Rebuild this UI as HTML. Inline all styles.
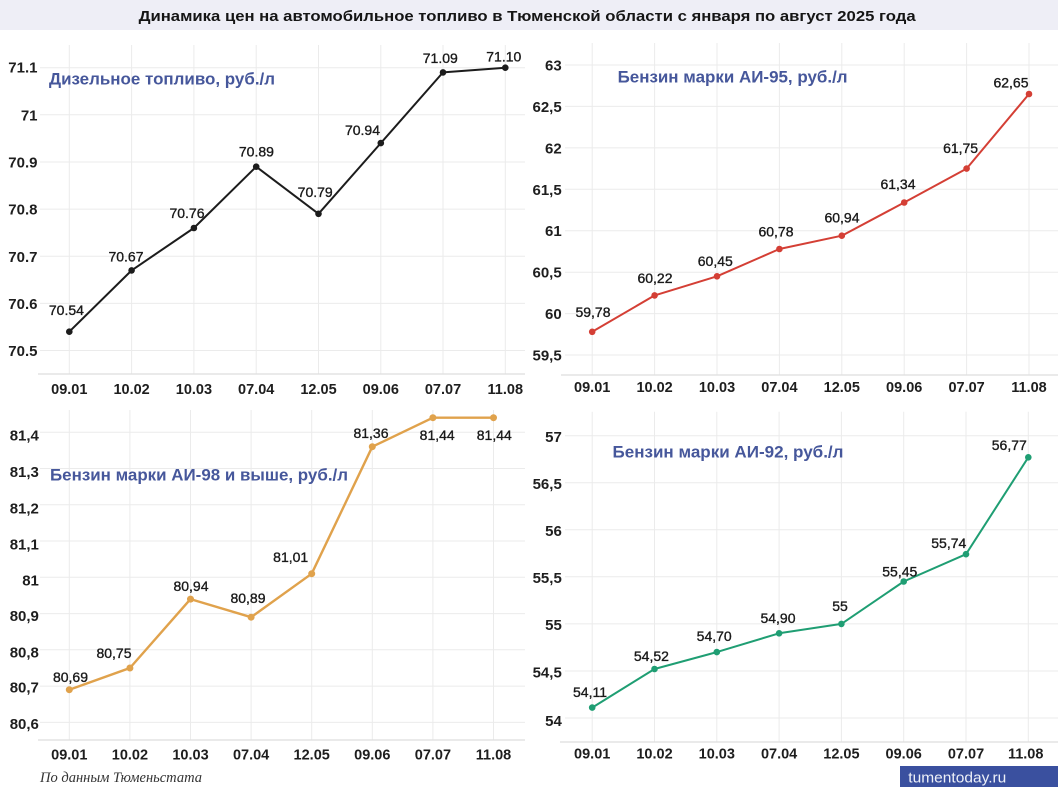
<!DOCTYPE html>
<html><head><meta charset="utf-8"><style>
html,body{margin:0;padding:0;background:#fff;}
svg{display:block;}
.t{font-family:"Liberation Sans",Arial,sans-serif;}
.yl{font-family:"Liberation Sans",Arial,sans-serif;font-weight:bold;font-size:15px;fill:#1e1e1e;text-anchor:end;}
.xl{font-family:"Liberation Sans",Arial,sans-serif;font-weight:bold;font-size:14.5px;fill:#1e1e1e;text-anchor:middle;}
.dl{font-family:"Liberation Sans",Arial,sans-serif;font-size:14px;fill:#1a1a1a;stroke:#1a1a1a;stroke-width:0.35;text-anchor:middle;}
.ti{font-family:"Liberation Sans",Arial,sans-serif;font-weight:bold;font-size:17px;fill:#46579b;}
.g{stroke:#ebebeb;stroke-width:1;}
.ax{stroke:#dedede;stroke-width:1.2;}
</style></head><body>
<svg width="1058" height="787" viewBox="0 0 1058 787" xmlns="http://www.w3.org/2000/svg">
<rect x="0" y="0" width="1058" height="787" fill="#fff"/>
<rect x="0" y="0" width="1058" height="30" fill="#eeeef6"/>
<text class="t" x="138.6" y="21" font-size="15" font-weight="bold" fill="#151515" textLength="777" lengthAdjust="spacingAndGlyphs">Динамика цен на автомобильное топливо в Тюменской области с января по август 2025 года</text>

<!-- TL: Diesel -->
<g>
<g class="g">
<line x1="69.3" y1="45" x2="69.3" y2="374"/><line x1="131.6" y1="45" x2="131.6" y2="374"/><line x1="193.9" y1="45" x2="193.9" y2="374"/><line x1="256.2" y1="45" x2="256.2" y2="374"/><line x1="318.5" y1="45" x2="318.5" y2="374"/><line x1="380.8" y1="45" x2="380.8" y2="374"/><line x1="443" y1="45" x2="443" y2="374"/><line x1="505.3" y1="45" x2="505.3" y2="374"/>
<line x1="40" y1="67.7" x2="525" y2="67.7"/><line x1="40" y1="114.8" x2="525" y2="114.8"/><line x1="40" y1="162" x2="525" y2="162"/><line x1="40" y1="209.1" x2="525" y2="209.1"/><line x1="40" y1="256.3" x2="525" y2="256.3"/><line x1="40" y1="303.4" x2="525" y2="303.4"/><line x1="40" y1="350.5" x2="525" y2="350.5"/>
</g>
<line class="ax" x1="38" y1="374" x2="525" y2="374"/>
<text class="yl" x="37.5" y="72.5">71.1</text><text class="yl" x="37.5" y="120.3">71</text><text class="yl" x="37.5" y="167.5">70.9</text><text class="yl" x="37.5" y="214.6">70.8</text><text class="yl" x="37.5" y="261.8">70.7</text><text class="yl" x="37.5" y="308.9">70.6</text><text class="yl" x="37.5" y="356">70.5</text>
<text class="xl" x="69.3" y="394">09.01</text><text class="xl" x="131.6" y="394">10.02</text><text class="xl" x="193.9" y="394">10.03</text><text class="xl" x="256.2" y="394">07.04</text><text class="xl" x="318.5" y="394">12.05</text><text class="xl" x="380.8" y="394">09.06</text><text class="xl" x="443" y="394">07.07</text><text class="xl" x="505.3" y="394">11.08</text>
<polyline fill="none" stroke="#1c1c1c" stroke-width="2" stroke-linejoin="round" points="69.3,331.7 131.6,270.4 193.9,228 256.2,166.7 318.5,213.8 380.8,143.1 443,72.4 505.3,67.7"/>
<g fill="#1c1c1c"><circle cx="69.3" cy="331.7" r="3.3"/><circle cx="131.6" cy="270.4" r="3.3"/><circle cx="193.9" cy="228" r="3.3"/><circle cx="256.2" cy="166.7" r="3.3"/><circle cx="318.5" cy="213.8" r="3.3"/><circle cx="380.8" cy="143.1" r="3.3"/><circle cx="443" cy="72.4" r="3.3"/><circle cx="505.3" cy="67.7" r="3.3"/></g>
<text class="dl" x="66.4" y="315">70.54</text><text class="dl" x="126" y="261.5">70.67</text><text class="dl" x="187" y="218">70.76</text><text class="dl" x="256.4" y="156.5">70.89</text><text class="dl" x="315.2" y="197">70.79</text><text class="dl" x="362.5" y="135">70.94</text><text class="dl" x="440.3" y="63">71.09</text><text class="dl" x="503.8" y="61.7">71.10</text>
<text class="ti" x="49" y="84.5" textLength="226" lengthAdjust="spacingAndGlyphs">Дизельное топливо, руб./л</text>
</g>

<!-- TR: AI-95 -->
<g>
<g class="g">
<line x1="592.2" y1="43" x2="592.2" y2="375"/><line x1="654.6" y1="43" x2="654.6" y2="375"/><line x1="717" y1="43" x2="717" y2="375"/><line x1="779.4" y1="43" x2="779.4" y2="375"/><line x1="841.8" y1="43" x2="841.8" y2="375"/><line x1="904.2" y1="43" x2="904.2" y2="375"/><line x1="966.6" y1="43" x2="966.6" y2="375"/><line x1="1029" y1="43" x2="1029" y2="375"/>
<line x1="565" y1="65" x2="1058" y2="65"/><line x1="565" y1="106.4" x2="1058" y2="106.4"/><line x1="565" y1="147.9" x2="1058" y2="147.9"/><line x1="565" y1="189.3" x2="1058" y2="189.3"/><line x1="565" y1="230.7" x2="1058" y2="230.7"/><line x1="565" y1="272.2" x2="1058" y2="272.2"/><line x1="565" y1="313.6" x2="1058" y2="313.6"/><line x1="565" y1="355" x2="1058" y2="355"/>
</g>
<line class="ax" x1="561" y1="375" x2="1058" y2="375"/>
<text class="yl" x="561.7" y="70.5">63</text><text class="yl" x="561.7" y="112">62,5</text><text class="yl" x="561.7" y="153.5">62</text><text class="yl" x="561.7" y="194.8">61,5</text><text class="yl" x="561.7" y="236.2">61</text><text class="yl" x="561.7" y="277.4">60,5</text><text class="yl" x="561.7" y="319">60</text><text class="yl" x="561.7" y="360.5">59,5</text>
<text class="xl" x="592.2" y="392">09.01</text><text class="xl" x="654.6" y="392">10.02</text><text class="xl" x="717" y="392">10.03</text><text class="xl" x="779.4" y="392">07.04</text><text class="xl" x="841.8" y="392">12.05</text><text class="xl" x="904.2" y="392">09.06</text><text class="xl" x="966.6" y="392">07.07</text><text class="xl" x="1029" y="392">11.08</text>
<polyline fill="none" stroke="#d43f35" stroke-width="2" stroke-linejoin="round" points="592.2,331.8 654.6,295.4 717,276.3 779.4,249 841.8,235.7 904.2,202.5 966.6,168.6 1029,94"/>
<g fill="#d43f35"><circle cx="592.2" cy="331.8" r="3.3"/><circle cx="654.6" cy="295.4" r="3.3"/><circle cx="717" cy="276.3" r="3.3"/><circle cx="779.4" cy="249" r="3.3"/><circle cx="841.8" cy="235.7" r="3.3"/><circle cx="904.2" cy="202.5" r="3.3"/><circle cx="966.6" cy="168.6" r="3.3"/><circle cx="1029" cy="94" r="3.3"/></g>
<text class="dl" x="593" y="317">59,78</text><text class="dl" x="655" y="283">60,22</text><text class="dl" x="715.3" y="266">60,45</text><text class="dl" x="776" y="236.7">60,78</text><text class="dl" x="842" y="222.7">60,94</text><text class="dl" x="898" y="189">61,34</text><text class="dl" x="960.6" y="153">61,75</text><text class="dl" x="1011" y="87.5">62,65</text>
<text class="ti" x="617.6" y="82.3" textLength="230" lengthAdjust="spacingAndGlyphs">Бензин марки АИ-95, руб./л</text>
</g>

<!-- BL: AI-98 -->
<g>
<g class="g">
<line x1="69.3" y1="410" x2="69.3" y2="740"/><line x1="129.9" y1="410" x2="129.9" y2="740"/><line x1="190.5" y1="410" x2="190.5" y2="740"/><line x1="251.1" y1="410" x2="251.1" y2="740"/><line x1="311.7" y1="410" x2="311.7" y2="740"/><line x1="372.3" y1="410" x2="372.3" y2="740"/><line x1="432.9" y1="410" x2="432.9" y2="740"/><line x1="493.5" y1="410" x2="493.5" y2="740"/>
<line x1="40" y1="432.2" x2="525" y2="432.2"/><line x1="40" y1="468.5" x2="525" y2="468.5"/><line x1="40" y1="504.7" x2="525" y2="504.7"/><line x1="40" y1="541" x2="525" y2="541"/><line x1="40" y1="577.3" x2="525" y2="577.3"/><line x1="40" y1="613.6" x2="525" y2="613.6"/><line x1="40" y1="649.8" x2="525" y2="649.8"/><line x1="40" y1="686.1" x2="525" y2="686.1"/><line x1="40" y1="722.4" x2="525" y2="722.4"/>
</g>
<line class="ax" x1="38" y1="740" x2="525" y2="740"/>
<text class="yl" x="38.9" y="440.5">81,4</text><text class="yl" x="38.9" y="477">81,3</text><text class="yl" x="38.9" y="513.5">81,2</text><text class="yl" x="38.9" y="549.5">81,1</text><text class="yl" x="38.9" y="585.5">81</text><text class="yl" x="38.9" y="621">80,9</text><text class="yl" x="38.9" y="657.5">80,8</text><text class="yl" x="38.9" y="692.5">80,7</text><text class="yl" x="38.9" y="729">80,6</text>
<text class="xl" x="69.3" y="759.5">09.01</text><text class="xl" x="129.9" y="759.5">10.02</text><text class="xl" x="190.5" y="759.5">10.03</text><text class="xl" x="251.1" y="759.5">07.04</text><text class="xl" x="311.7" y="759.5">12.05</text><text class="xl" x="372.3" y="759.5">09.06</text><text class="xl" x="432.9" y="759.5">07.07</text><text class="xl" x="493.5" y="759.5">11.08</text>
<polyline fill="none" stroke="#e0a24c" stroke-width="2.4" stroke-linejoin="round" points="69.3,689.7 129.9,668 190.5,599.1 251.1,617.2 311.7,573.7 372.3,446.7 432.9,417.7 493.5,417.7"/>
<g fill="#e0a24c"><circle cx="69.3" cy="689.7" r="3.5"/><circle cx="129.9" cy="668" r="3.5"/><circle cx="190.5" cy="599.1" r="3.5"/><circle cx="251.1" cy="617.2" r="3.5"/><circle cx="311.7" cy="573.7" r="3.5"/><circle cx="372.3" cy="446.7" r="3.5"/><circle cx="432.9" cy="417.7" r="3.5"/><circle cx="493.5" cy="417.7" r="3.5"/></g>
<text class="dl" x="70.5" y="682">80,69</text><text class="dl" x="114" y="658">80,75</text><text class="dl" x="191" y="591">80,94</text><text class="dl" x="248" y="603">80,89</text><text class="dl" x="290.7" y="562">81,01</text><text class="dl" x="371" y="438">81,36</text><text class="dl" x="437.2" y="440">81,44</text><text class="dl" x="494.3" y="440">81,44</text>
<text class="ti" x="50" y="480.3" textLength="298" lengthAdjust="spacingAndGlyphs">Бензин марки АИ-98 и выше, руб./л</text>
</g>

<!-- BR: AI-92 -->
<g>
<g class="g">
<line x1="592.2" y1="411.7" x2="592.2" y2="742"/><line x1="654.5" y1="411.7" x2="654.5" y2="742"/><line x1="716.8" y1="411.7" x2="716.8" y2="742"/><line x1="779.1" y1="411.7" x2="779.1" y2="742"/><line x1="841.4" y1="411.7" x2="841.4" y2="742"/><line x1="903.7" y1="411.7" x2="903.7" y2="742"/><line x1="966" y1="411.7" x2="966" y2="742"/><line x1="1028.3" y1="411.7" x2="1028.3" y2="742"/>
<line x1="565" y1="435.7" x2="1058" y2="435.7"/><line x1="565" y1="482.7" x2="1058" y2="482.7"/><line x1="565" y1="529.8" x2="1058" y2="529.8"/><line x1="565" y1="576.8" x2="1058" y2="576.8"/><line x1="565" y1="623.9" x2="1058" y2="623.9"/><line x1="565" y1="671" x2="1058" y2="671"/><line x1="565" y1="718" x2="1058" y2="718"/>
</g>
<line class="ax" x1="560" y1="742" x2="1058" y2="742"/>
<text class="yl" x="561.8" y="442.2">57</text><text class="yl" x="561.8" y="488.8">56,5</text><text class="yl" x="561.8" y="536.2">56</text><text class="yl" x="561.8" y="582.8">55,5</text><text class="yl" x="561.8" y="629.8">55</text><text class="yl" x="561.8" y="677.5">54,5</text><text class="yl" x="561.8" y="725.8">54</text>
<text class="xl" x="592.2" y="758.5">09.01</text><text class="xl" x="654.5" y="758.5">10.02</text><text class="xl" x="716.8" y="758.5">10.03</text><text class="xl" x="779.1" y="758.5">07.04</text><text class="xl" x="841.4" y="758.5">12.05</text><text class="xl" x="903.7" y="758.5">09.06</text><text class="xl" x="966" y="758.5">07.07</text><text class="xl" x="1025.7" y="758.5">11.08</text>
<polyline fill="none" stroke="#1f9e73" stroke-width="2" stroke-linejoin="round" points="592.2,707.6 654.5,669 716.8,652.1 779.1,633.3 841.4,623.9 903.7,581.5 966,554.2 1028.3,457.3"/>
<g fill="#1f9e73"><circle cx="592.2" cy="707.6" r="3.3"/><circle cx="654.5" cy="669" r="3.3"/><circle cx="716.8" cy="652.1" r="3.3"/><circle cx="779.1" cy="633.3" r="3.3"/><circle cx="841.4" cy="623.9" r="3.3"/><circle cx="903.7" cy="581.5" r="3.3"/><circle cx="966" cy="554.2" r="3.3"/><circle cx="1028.3" cy="457.3" r="3.3"/></g>
<text class="dl" x="590" y="697">54,11</text><text class="dl" x="651.4" y="661">54,52</text><text class="dl" x="714.2" y="641">54,70</text><text class="dl" x="778" y="623">54,90</text><text class="dl" x="840" y="611">55</text><text class="dl" x="899.8" y="576.5">55,45</text><text class="dl" x="948.8" y="548">55,74</text><text class="dl" x="1009.3" y="450">56,77</text>
<text class="ti" x="612.5" y="457.3" textLength="231" lengthAdjust="spacingAndGlyphs">Бензин марки АИ-92, руб./л</text>
</g>

<!-- Footer -->
<text x="40" y="782" font-family="'Liberation Serif','Times New Roman',serif" font-style="italic" font-size="15" fill="#333" textLength="162" lengthAdjust="spacingAndGlyphs">По данным Тюменьстата</text>
<rect x="900" y="766" width="158" height="21" fill="#3a509f"/>
<text x="908.3" y="782.5" font-family="'Liberation Sans',Arial,sans-serif" font-size="15" fill="#eef1f8" textLength="98" lengthAdjust="spacingAndGlyphs">tumentoday.ru</text>
</svg>
</body></html>
